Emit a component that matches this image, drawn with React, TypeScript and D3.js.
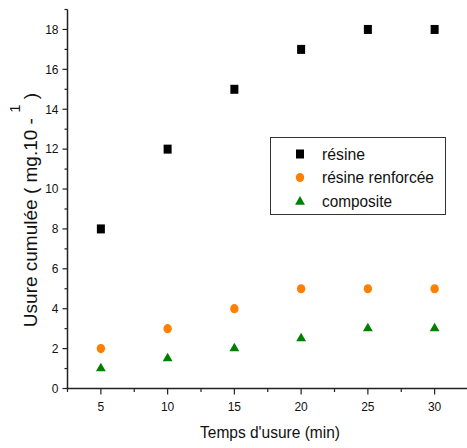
import * as d3 from 'd3';
import React from 'react';

// temps d'usure (min)
const times = [5, 10, 15, 20, 25, 30];
// usure cumulée par matériau
const resine = [8, 12, 15, 17, 18, 18];
const resineRenforcee = [2, 3, 4, 5, 5, 5];
const composite = [1.05, 1.55, 2.05, 2.55, 3.05, 3.05];

const xMajorTicks = [5, 10, 15, 20, 25, 30];
const xMinorTicks = [2.5, 7.5, 12.5, 17.5, 22.5, 27.5, 32.5];
const yMajorTicks = [0, 2, 4, 6, 8, 10, 12, 14, 16, 18];
const yMinorTicks = [1, 3, 5, 7, 9, 11, 13, 15, 17, 19];

const series = [
  { name: 'résine', values: resine, color: '#000000', shape: 'square' },
  { name: 'résine renforcée', values: resineRenforcee, color: '#ff8000', shape: 'circle' },
  { name: 'composite', values: composite, color: '#008000', shape: 'triangle' },
];

// largeur mesurée des libellés de la légende (police un peu étroite)
const legendWidths: Record<string, number> = { 'résine': 43, 'résine renforcée': 112, 'composite': 70 };

const width = 467;
const height = 448;
const font = "'Liberation Sans', Arial, sans-serif";

function Marker({ shape, x, y, color }: { shape: string; x: number; y: number; color: string }) {
  if (shape === 'square') return <rect x={x - 4} y={y - 4.5} width={8} height={9} fill={color} />;
  if (shape === 'circle') return <ellipse cx={x} cy={y} rx={4.2} ry={4.6} fill={color} />;
  const sym = d3.symbol().type(d3.symbolTriangle).size(42)();
  return <path d={sym || ''} transform={`translate(${x},${y + 0.8})`} fill={color} />;
}

export default function App() {
  const x = d3.scaleLinear().domain([2.5, 32.5]).range([67.5, 468]);
  const y = d3.scaleLinear().domain([0, 19]).range([388.5, 9.5]);
  const axisColor = '#222';

  return (
    <svg width={width} height={height} style={{ position: 'absolute', left: 0, top: 0, background: '#fff' }}>
      {/* axes */}
      <line x1={x(2.5)} x2={x(2.5)} y1={y(0)} y2={y(19)} stroke={axisColor} strokeWidth={1.5} />
      <line x1={x(2.5) - 0.75} x2={x(32.5)} y1={y(0)} y2={y(0)} stroke={axisColor} strokeWidth={1.5} />

      {yMajorTicks.map(t => (
        <g key={'ym' + t}>
          <line x1={x(2.5) - 5} x2={x(2.5)} y1={y(t)} y2={y(t)} stroke={axisColor} strokeWidth={1.2} />
          <text x={x(2.5) - 9} y={y(t)} dy="0.36em" textAnchor="end" fontFamily={font} fontSize={12} fill="#111">{t}</text>
        </g>
      ))}
      {yMinorTicks.map(t => (
        <line key={'yn' + t} x1={x(2.5) - 3} x2={x(2.5)} y1={y(t)} y2={y(t)} stroke={axisColor} strokeWidth={1.2} />
      ))}
      {xMajorTicks.map(t => (
        <g key={'xm' + t}>
          <line x1={x(t)} x2={x(t)} y1={y(0)} y2={y(0) + 6} stroke={axisColor} strokeWidth={1.2} />
          <text x={x(t)} y={y(0) + 22} textAnchor="middle" fontFamily={font} fontSize={12} fill="#111">{t}</text>
        </g>
      ))}
      {xMinorTicks.map(t => (
        <line key={'xn' + t} x1={x(t)} x2={x(t)} y1={y(0)} y2={y(0) + 3.5} stroke={axisColor} strokeWidth={1.2} />
      ))}

      {/* titres */}
      <text x={270} y={438} textAnchor="middle" fontFamily={font} fontSize={17} fill="#111"
        textLength={140} lengthAdjust="spacingAndGlyphs">Temps d'usure (min)</text>
      <text transform="translate(37,210) rotate(-90)" textAnchor="middle" fontFamily={font} fontSize={19} fill="#111">
        Usure cumulée ( mg.10 - <tspan dy={-17} fontSize={15}>1</tspan><tspan dy={17}> )</tspan>
      </text>

      {/* données */}
      {series.map(s => (
        <g key={s.name}>
          {s.values.map((v, i) => (
            <Marker key={i} shape={s.shape} x={x(times[i])} y={y(v)} color={s.color} />
          ))}
        </g>
      ))}

      {/* légende */}
      <rect x={270.5} y={137.5} width={175} height={77} fill="#fff" stroke="#333" strokeWidth={1} />
      {series.map((s, i) => (
        <g key={'lg' + s.name}>
          <Marker shape={s.shape} x={300} y={154 + i * 23.5} color={s.color} />
          <text x={322} y={154 + i * 23.5} dy="0.36em" fontFamily={font} fontSize={16} fill="#111"
            textLength={legendWidths[s.name]} lengthAdjust="spacingAndGlyphs">{s.name}</text>
        </g>
      ))}
    </svg>
  );
}
